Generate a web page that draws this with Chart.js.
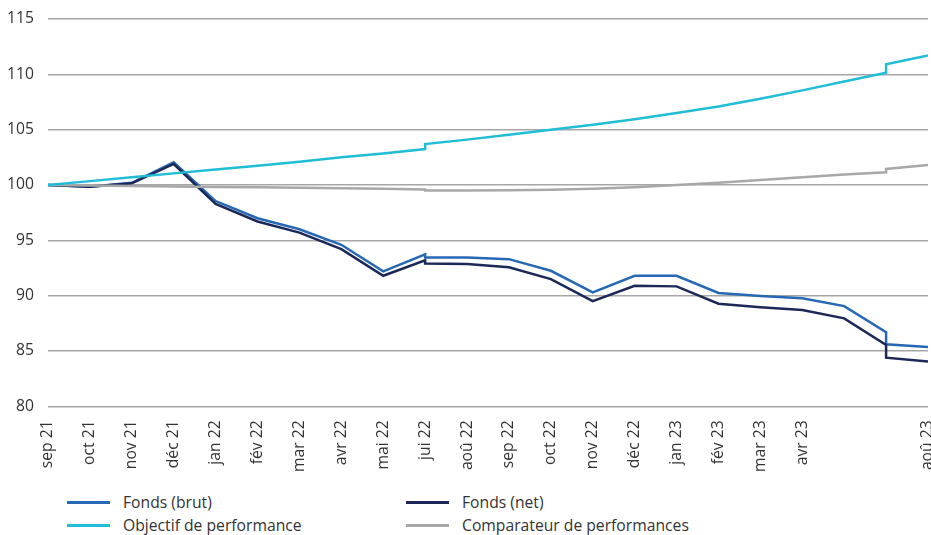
<!DOCTYPE html>
<html>
<head>
<meta charset="utf-8">
<script src="https://cdn.jsdelivr.net/npm/chart.js@4.4.1/dist/chart.umd.min.js"></script>
<style>
  body { margin: 0; background: #fff; font-family: 'Open Sans', sans-serif; }
  #wrap { position: relative; width: 931px; height: 535px; }
  #chart { position: absolute; left: 0; top: 0; }
  .legend { position: absolute; font-size: 15.7px; color: #333; display: flex; align-items: center; white-space: nowrap; }
  .legend .swatch { display: inline-block; width: 43px; height: 3px; margin-right: 13px; }
</style>
</head>
<body>
<div id="wrap">
  <canvas id="chart" width="931" height="478"></canvas>
  <div id="legend"></div>
</div>
<script>
/* ── Data ──────────────────────────────────────────────── */
const monthLabels = ['sep 21', 'oct 21', 'nov 21', 'déc 21', 'jan 22', 'fév 22', 'mar 22', 'avr 22',
  'mai 22', 'jui 22', 'aoû 22', 'sep 22', 'oct 22', 'nov 22', 'déc 22', 'jan 23', 'fév 23',
  'mar 23', 'avr 23', '', '', 'aoû 23'];

// x position of each point (month index); repeated index = vertical step
const xIndex = [0, 1, 2, 3, 4, 5, 6, 7, 8, 9, 9, 10, 11, 12, 13, 14, 15, 16, 17, 18, 19, 20, 20, 21];

const fondsBrut = [100, 99.85, 100.2, 102.05, 98.55, 97.0, 96.0, 94.6, 92.2, 93.73, 93.46, 93.46,
  93.3, 92.25, 90.3, 91.8, 91.8, 90.24, 89.96, 89.76, 89.06, 86.7, 85.6, 85.35];
const fondsNet = [100, 99.85, 100.15, 101.9, 98.3, 96.7, 95.7, 94.2, 91.8, 93.2, 92.9, 92.86,
  92.56, 91.5, 89.5, 90.9, 90.84, 89.27, 88.96, 88.7, 87.95, 85.55, 84.4, 84.06];
const objectif = [100, 100.35, 100.7, 101.05, 101.4, 101.75, 102.1, 102.5, 102.85, 103.25, 103.7,
  104.1, 104.55, 105.0, 105.45, 105.95, 106.5, 107.1, 107.8, 108.55, 109.35, 110.15, 110.9, 111.7];
const comparateur = [100, 99.95, 99.9, 99.87, 99.83, 99.8, 99.75, 99.7, 99.65, 99.6, 99.5, 99.5,
  99.52, 99.57, 99.67, 99.8, 100.0, 100.2, 100.45, 100.7, 100.95, 101.15, 101.45, 101.8];

const yTicks = [80, 85, 90, 95, 100, 105, 110, 115];

const series = [
  { label: 'Fonds (brut)', values: fondsBrut, color: '#2768b4' },
  { label: 'Fonds (net)', values: fondsNet, color: '#1b2858' },
  { label: 'Objectif de performance', values: objectif, color: '#20bdd6' },
  { label: 'Comparateur de performances', values: comparateur, color: '#a8a8a8' },
];

/* ── Chart ─────────────────────────────────────────────── */
Chart.defaults.font.family = "'Open Sans', sans-serif";
Chart.defaults.font.size = 15.7;
Chart.defaults.color = '#333';

const toPoints = vals => vals.map((y, i) => ({ x: xIndex[i], y }));

// draw order: grey and cyan behind fund lines
const drawOrder = [2, 3, 1, 0];

new Chart(document.getElementById('chart'), {
  type: 'line',
  data: {
    datasets: drawOrder.map(k => ({
      label: series[k].label,
      data: toPoints(series[k].values),
      borderColor: series[k].color,
      borderWidth: 2.5,
      pointRadius: 0,
      tension: 0,
      fill: false,
    })),
  },
  options: {
    responsive: false,
    animation: false,
    layout: { padding: { left: 0, right: 3, top: 19, bottom: 0 } },
    plugins: { legend: { display: false }, tooltip: { enabled: false } },
    scales: {
      x: {
        type: 'linear',
        min: 0,
        max: 21,
        grid: { display: false },
        border: { display: false },
        afterBuildTicks: axis => { axis.ticks = monthLabels.map((_, i) => ({ value: i })); },
        // let the last label run off the edge like the original
        afterFit: axis => { axis.paddingLeft = 0; axis.paddingRight = 0; },
        ticks: {
          autoSkip: false,
          maxRotation: 90,
          minRotation: 90,
          padding: 6,
          callback: v => monthLabels[v],
        },
      },
      y: {
        min: 80,
        max: 115,
        afterBuildTicks: axis => { axis.ticks = yTicks.map(v => ({ value: v })); },
        afterFit: axis => { axis.width = 48; axis.paddingTop = 0; axis.paddingBottom = 0; },
        grid: { color: '#a6a6a6', lineWidth: 1.5, drawTicks: false },
        border: { display: false },
        ticks: { padding: 14 },
      },
    },
  },
});

/* ── Legend ────────────────────────────────────────────── */
const legendPos = [[67, 502], [406, 502], [67, 525], [406, 525]];
const legendEl = document.getElementById('legend');
series.forEach((s, i) => {
  const item = document.createElement('div');
  item.className = 'legend';
  item.style.left = legendPos[i][0] + 'px';
  item.style.top = (legendPos[i][1] - 11) + 'px';
  item.innerHTML = `<span class="swatch" style="background:${s.color}"></span>${s.label}`;
  legendEl.appendChild(item);
});
</script>
</body>
</html>
